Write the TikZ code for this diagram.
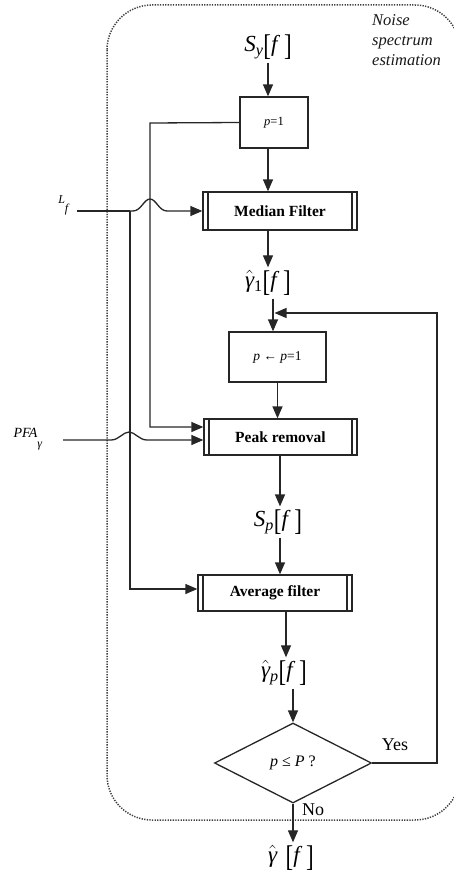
\documentclass[tikz,border=0pt]{standalone}
\usepackage{fontspec}
\setmainfont{Liberation Serif}
\usetikzlibrary{arrows.meta,shapes.geometric,calc}

% tall square brackets around the frequency index
\newcommand{\tbr}[1]{\raisebox{-0.16em}{\scalebox{1}[1.3]{#1}}}
\newcommand{\freqarg}{\tbr{[}\textit{f}\,\tbr{]}}
\newcommand{\ghat}{$\hat{\mbox{\itshape γ}}$}

\tikzset{
  flow/.style={line width=1.3pt, draw=black!85},
  arr/.style={flow, -{Triangle[length=12pt,width=10pt]}},
  plainbox/.style={draw=black!85, line width=1.3pt, rectangle, inner sep=0pt},
  procbox/.style={plainbox, font=\fontsize{15.5}{16}\selectfont\bfseries,
    path picture={
      \draw[line width=1.1pt, black!85]
        ([xshift=5pt]path picture bounding box.north west) -- ([xshift=5pt]path picture bounding box.south west)
        ([xshift=-5pt]path picture bounding box.north east) -- ([xshift=-5pt]path picture bounding box.south east);
    }},
  decision/.style={diamond, draw=black!85, line width=1.3pt, inner sep=0pt,
    minimum width=157pt, minimum height=80pt, font=\fontsize{16}{16}\selectfont},
  lbl/.style={inner sep=3pt, font=\fontsize{23}{23}\selectfont},
  answer/.style={inner sep=0pt, font=\fontsize{18}{18}\selectfont},
}

\begin{document}
\begin{tikzpicture}[x=1pt,y=-1pt]
\useasboundingbox (0,0) rectangle (454,875);

% dotted frame of the noise spectrum estimator
\draw[line width=1.5pt, black!75, dash pattern=on 1.3pt off 1.3pt, rounded corners=45pt] (107,5) rectangle (460,820);
\node[anchor=north west, inner sep=0pt, align=left, text=black!90,
      font=\fontsize{16.5}{20}\selectfont\itshape] (title) at (372,14)
  {Noise\\spectrum\\estimation};

% main chain
\node[lbl] (sy) at (268,47) {\textit{S}\textsubscript{\textit{y}}\freqarg};
\node[plainbox, minimum width=68pt, minimum height=51pt, font=\fontsize{12.5}{12.5}\selectfont] (p1) at (274,122.5)
  {\raisebox{-0.45em}{\textit{p}=1}};
\node[procbox, minimum width=154pt, minimum height=38pt] (mf) at (280,211) {Median Filter};
\node[lbl] (g1) at (268,283) {\ghat\textsubscript{1}\freqarg};
\node[plainbox, minimum width=97pt, minimum height=50pt, font=\fontsize{13.5}{13.5}\selectfont] (pp) at (277.5,357)
  {\textit{p} ← \textit{p}=1};
\node[procbox, minimum width=153pt, minimum height=36pt] (pr) at (280.5,437) {Peak removal};
\node[lbl] (sp) at (278,522) {\textit{S}\textsubscript{\textit{p}}\freqarg};
\node[procbox, minimum width=154pt, minimum height=36pt] (af) at (275,593) {Average filter};
\node[lbl] (gp) at (284,673) {\ghat\textsubscript{\textit{p}}\freqarg};
\node[decision] (dec) at (293,763) {\textit{p} ≤ \textit{P} ?};
\node[lbl] (gh) at (291,858) {\ghat\textsubscript{\phantom{p}}\freqarg};
\node[answer] (yes) at (395,745) {Yes};
\node[answer] (no) at (313,810) {No};

% side inputs
\node[inner sep=0pt, font=\fontsize{12}{12}\selectfont] (lf) at (64,205)
  {\textit{L}\raisebox{-0.75em}{\textit{f}}};
\node[inner sep=0pt, font=\fontsize{14}{14}\selectfont] (pfa) at (28,439)
  {\textit{PFA}\raisebox{-0.7em}{\fontsize{12}{12}\selectfont\textit{γ}}};

\coordinate (lfstart) at (77,211);
\coordinate (jL) at (130,211);
\coordinate (loopL) at (150,123);
\coordinate (pfastart) at (63,440);
\coordinate (hopP) at (129,440);
\coordinate (fbturn) at (437,313);
\coordinate (fbin) at (274.5,313);

% vertical flow
\draw[arr] (sy.south) -- (sy.south |- p1.north);
\draw[arr] ([xshift=-6pt]p1.south) -- ([xshift=-6pt]p1.south |- mf.north);
\draw[arr] (g1.north |- mf.south) -- (g1.north);
\draw[arr] ([xshift=5pt]g1.south) -- ([xshift=5pt]g1.south |- pp.north);
\draw[arr] (pp.south) -- (pp.south |- pr.north);
\draw[arr] ([xshift=-0.5pt]pr.south) -- ([xshift=-0.5pt]pr.south |- sp.north);
\draw[arr] ([xshift=2pt]sp.south) -- ([xshift=2pt]sp.south |- af.north);
\draw[arr] ([xshift=2pt]gp.north |- af.south) -- ([xshift=2pt]gp.north);
\draw[arr] (dec.north |- gp.south) -- (dec.north);
\draw[arr] (dec.south) -- (dec.south |- gh.north);

% repeat loop
\draw[arr] (dec.east) -| (fbturn) -- (fbin);

% p=1 feeds the peak removal
\draw[arr] (p1.west) -- (loopL) |- ([yshift=10pt]pr.west);

% L_f to the median filter (hopping over the loop line) and the average filter
\draw[flow] (lfstart) -- (jL);
\draw[arr] (jL) -- ($(jL)+(3,0)$)
  .. controls ($(jL)+(11,0)$) and ($(jL)+(14,-12)$) .. ($(jL)+(20,-12)$)
  .. controls ($(jL)+(26,-12)$) and ($(jL)+(29,0)$) .. ($(jL)+(37,0)$)
  -- (mf.west);
\draw[arr] (jL) |- ([yshift=4pt]af.west);

% PFA to the peak removal (hopping over the L_f line)
\draw[arr] (pfastart) -- ($(hopP)+(-18,0)$)
  .. controls ($(hopP)+(-10,0)$) and ($(hopP)+(-6,-8)$) .. ($(hopP)+(0,-8)$)
  .. controls ($(hopP)+(6,-8)$) and ($(hopP)+(10,0)$) .. ($(hopP)+(18,0)$)
  -- ([yshift=-3pt]pr.west);
\end{tikzpicture}
\end{document}
